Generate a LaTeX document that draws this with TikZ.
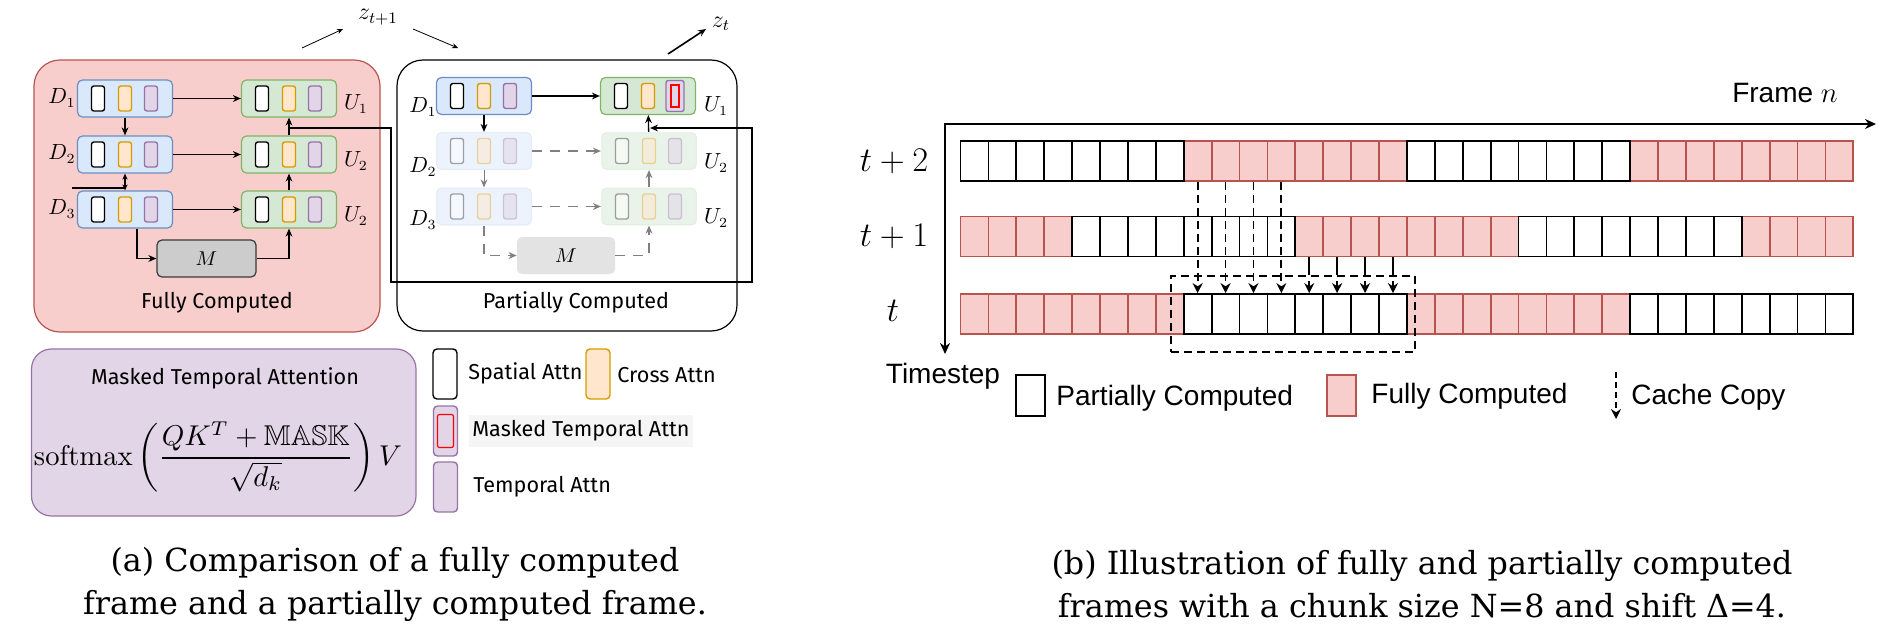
\documentclass[tikz,border=0pt]{standalone}
\usepackage{fontspec}
\usepackage{amsmath,amssymb}
\usepackage{graphicx}
\usetikzlibrary{arrows.meta}
\newfontfamily\comicf{Fira Sans}
\newfontfamily\arialf{Liberation Sans}
\newfontfamily\capf{DejaVu Serif}
\definecolor{redfill}{HTML}{F8CECC}
\definecolor{redline}{HTML}{B85450}
\definecolor{bluefill}{HTML}{DAE8FC}
\definecolor{blueline}{HTML}{6C8EBF}
\definecolor{greenfill}{HTML}{D5E8D4}
\definecolor{greenline}{HTML}{82B366}
\definecolor{orangefill}{HTML}{FFE6CC}
\definecolor{orangeline}{HTML}{D79B00}
\definecolor{purplefill}{HTML}{E1D5E7}
\definecolor{purpleline}{HTML}{9673A6}
\definecolor{mfill}{HTML}{CCCCCC}
\definecolor{mline}{HTML}{36393D}
\definecolor{fadegray}{HTML}{808080}
\newcommand\attnblk[5]{%
  \node[#4] (#1) at (#2,#3) {};
  \node[sp,#5] (#1s) at ({#2-27},#3) {};
  \node[cr,#5] (#1c) at (#2,#3) {};
  \node[tp,#5] (#1t) at ({#2+26},#3) {};
}
\begin{document}
\begin{tikzpicture}[x=0.5pt,y=-0.5pt,
  blk/.style={rounded corners=2.5pt, minimum width=47.5pt, minimum height=18.5pt, inner sep=0pt, line width=0.6pt},
  bblk/.style={blk, draw=blueline, fill=bluefill},
  gblk/.style={blk, draw=greenline, fill=greenfill},
  inr/.style={rounded corners=1.2pt, minimum width=6.5pt, minimum height=12.5pt, inner sep=0pt, line width=0.7pt},
  sp/.style={inr, draw=black, fill=white},
  cr/.style={inr, draw=orangeline, fill=orangefill},
  tp/.style={inr, draw=purpleline, fill=purplefill},
  fade/.style={fill opacity=0.5, draw opacity=0.1},
  fadei/.style={fill opacity=0.5, draw opacity=0.35},
  arr/.style={-{Stealth[length=4pt,width=3.4pt]}, line width=0.65pt},
  garr/.style={arr, draw=fadegray},
  gdash/.style={garr, dash pattern=on 5pt off 4pt},
  lbl/.style={inner sep=0pt, font=\fontsize{10.5}{12}\selectfont},
  ctext/.style={inner sep=0pt, font=\comicf\fontsize{10.8}{12}\selectfont},
  cell/.style={minimum width=13.95pt, minimum height=20pt, inner sep=0pt, line width=0.9pt},
  wcell/.style={cell, draw=black, fill=white},
  rcell/.style={cell, draw=redline, fill=redfill},
  cache/.style={-{Stealth[length=5pt,width=5pt]}, line width=0.9pt, dash pattern=on 4pt off 2.5pt},
  atext/.style={inner sep=0pt, font=\arialf\fontsize{14}{16}\selectfont},
  rlab/.style={inner sep=0pt, font=\fontsize{17}{19}\selectfont},
  legr/.style={rounded corners=2pt, minimum width=12pt, minimum height=25pt, inner sep=0pt, line width=0.7pt}
]
\path[use as bounding box] (0,0) rectangle (1893,633);

% ---------------- (a) fully computed ----------------
\node[draw=redline, fill=redfill, rounded corners=13pt, line width=0.6pt, minimum width=173pt, minimum height=136pt, inner sep=0pt] (fullbox) at (207,196) {};
\node[draw=black, fill=white, rounded corners=13pt, line width=0.6pt, minimum width=170pt, minimum height=135.5pt, inner sep=0pt] (partbox) at (567,195.5) {};

\attnblk{fD1}{125}{98.5}{bblk}{}
\attnblk{fD2}{125}{154.5}{bblk}{}
\attnblk{fD3}{125}{209.5}{bblk}{}
\attnblk{fU1}{289}{98.5}{gblk}{}
\attnblk{fU2}{289}{154.5}{gblk}{}
\attnblk{fU3}{289}{209.5}{gblk}{}
\node[draw=mline, fill=mfill, rounded corners=2.5pt, line width=0.6pt, minimum width=49.5pt, minimum height=18.5pt, inner sep=0pt] (fM) at (206.5,258.5) {$M$};

\node[lbl] (lfD1) at (62,98) {$D_1$};
\node[lbl] (lfD2) at (62,154) {$D_2$};
\node[lbl] (lfD3) at (62,209) {$D_3$};
\node[lbl] (lfU1) at (356,104) {$U_1$};
\node[lbl] (lfU2) at (356,161) {$U_2$};
\node[lbl] (lfU3) at (356,216) {$U_2$};
\node[ctext] (tfull) at (217,303) {Fully Computed};

\draw[arr] (fD1) -- (fU1);
\draw[arr] (fD2) -- (fU2);
\draw[arr] (fD3) -- (fU3);
\draw[arr] (fD1) -- (fD2);
\draw[{Stealth[length=3pt,width=2.6pt]}-{Stealth[length=3pt,width=2.6pt]}, line width=0.65pt] (fD2) -- (fD3);
\coordinate (fstubA) at (72,188);
\coordinate (fstubB) at (125,188);
\draw[line width=0.65pt] (fstubA) -- (fstubB);
\draw[arr] ([xshift=6pt]fD3.south) |- (fM.west);
\draw[arr] (fM.east) -| (fU3.south);
\draw[arr] (fU3) -- (fU2);
\draw[arr] (fU2) -- (fU1);

% ---------------- (a) partially computed ----------------
\attnblk{pD1}{484}{96}{bblk}{}
\attnblk{pD2}{484}{151}{bblk,fade}{fadei}
\attnblk{pD3}{484}{206.5}{bblk,fade}{fadei}
\node[gblk] (pU1) at (648,96) {};
\node[sp] (pU1s) at (621,96) {};
\node[cr] (pU1c) at (648,96) {};
\node[tp, minimum width=9pt, minimum height=15.5pt] (pU1t) at (675,96) {};
\node[draw=red, line width=0.6pt, minimum width=4pt, minimum height=11pt, inner sep=0pt] (pU1m) at (675,96) {};
\attnblk{pU2}{649}{151}{gblk,fade}{fadei}
\attnblk{pU3}{649}{206.5}{gblk,fade}{fadei}
\node[fill=mfill, fill opacity=0.55, text opacity=1, rounded corners=2.5pt, minimum width=49pt, minimum height=18.5pt, inner sep=0pt] (pM) at (566,255.5) {$M$};

\node[lbl] (lpD1) at (423,107) {$D_1$};
\node[lbl] (lpD2) at (423,167) {$D_2$};
\node[lbl] (lpD3) at (423,220) {$D_3$};
\node[lbl] (lpU1) at (716,106) {$U_1$};
\node[lbl] (lpU2) at (716,163) {$U_2$};
\node[lbl] (lpU3) at (716,218) {$U_2$};
\node[ctext] (tpart) at (576,302) {Partially Computed};

\draw[arr, line width=1pt] (pD1) -- (pU1);
\draw[arr] (pD1) -- (pD2);
\draw[garr, line width=0.5pt] (pD2) -- (pD3);
\draw[gdash] (pD2) -- (pU2);
\draw[gdash] (pD3) -- (pU3);
\draw[gdash] (pD3.south) |- (pM.west);
\draw[gdash] (pM.east) -| (pU3.south);
\draw[garr] (pU3) -- (pU2);
\draw[arr] (pU2) -- (pU1);

% loop connector
\coordinate (lpA) at (289,128);
\coordinate (lpB) at (391,128);
\coordinate (lpC) at (391,282);
\coordinate (lpD) at (752,282);
\coordinate (lpE) at (752,128);
\coordinate (lpF) at (650,128);
\draw[arr] (lpA) -- (lpB) -- (lpC) -- (lpD) -- (lpE) -- (lpF);

% z labels
\node[inner sep=0pt, font=\fontsize{12}{14}\selectfont] (zt1) at (378,17) {$z_{t+1}$};
\node[inner sep=0pt, font=\fontsize{12}{14}\selectfont] (zt) at (721,24) {$z_t$};
\coordinate (za1) at (302,48);
\coordinate (za2) at (343,29);
\coordinate (zb1) at (413,29);
\coordinate (zb2) at (458,48);
\coordinate (zc1) at (668,54);
\coordinate (zc2) at (706,29);
\draw[-{Stealth[length=3pt,width=2.6pt]}, line width=0.4pt] (za1) -- (za2);
\draw[-{Stealth[length=3pt,width=2.6pt]}, line width=0.4pt] (zb1) -- (zb2);
\draw[-{Stealth[length=4pt,width=3.4pt]}, line width=0.8pt] (zc1) -- (zc2);

% ---------------- formula box and legend ----------------
\node[draw=purpleline, fill=purplefill, rounded corners=10pt, line width=0.6pt, minimum width=192.25pt, minimum height=83.5pt, inner sep=0pt] (mbox) at (223.75,432.5) {};
\node[ctext] (mtitle) at (225,378) {Masked Temporal Attention};
\node[inner sep=0pt] (mform) at (218,457) {\resizebox{184pt}{!}{$\displaystyle \mathrm{softmax}\left(\frac{QK^T+\mathbb{MASK}}{\sqrt{d_k}}\right)V$}};

\node[legr, draw=black, fill=white] (lgS) at (445,374) {};
\node[ctext, anchor=west] (lgSt) at (468,373) {Spatial Attn};
\node[legr, draw=orangeline, fill=orangefill] (lgC) at (598,374) {};
\node[ctext, anchor=west] (lgCt) at (617,375) {Cross Attn};
\node[legr, draw=purpleline, fill=purplefill] (lgM) at (445.5,431) {};
\node[draw=red, line width=0.6pt, rounded corners=1pt, minimum width=8pt, minimum height=16.5pt, inner sep=0pt] (lgMr) at (445.5,431) {};
\node[ctext, anchor=west, fill=black!4, inner xsep=1.5pt, inner ysep=3pt] (lgMt) at (469,431) {Masked Temporal Attn};
\node[legr, draw=purpleline, fill=purplefill] (lgT) at (445.5,487) {};
\node[ctext, anchor=west] (lgTt) at (473,487) {Temporal Attn};

% ---------------- (b) ----------------
\coordinate (origin) at (945,124);
\coordinate (xend) at (1876,124);
\coordinate (yend) at (945,354);
\draw[{Stealth[length=5.5pt,width=5pt]}-{Stealth[length=5.5pt,width=5pt]}, line width=1pt] (yend) -- (origin) -- (xend);
\node[atext] (fr) at (1785,93) {Frame $n$};
\node[atext] (ts) at (943,376) {Timestep};
\node[rlab] (r2l) at (894,161) {$t+2$};
\node[rlab] (r1l) at (894,236) {$t+1$};
\node[rlab] (r0l) at (893,311) {$t$};

\foreach \r/\yy/\off/\pp in {2/161/0/1, 1/236.5/4/0, 0/314/0/0} {
  \foreach \i in {0,...,31} {
    \pgfmathtruncatemacro\w{mod(floor((\i+\off)/8)+\pp,2)}
    \pgfmathsetmacro\cx{960.5+(\i+0.5)*27.9}
    \ifnum\w=0
      \node[rcell] (c\r-\i) at (\cx,\yy) {};
    \fi
  }
}
\foreach \r/\yy/\off/\pp in {2/161/0/1, 1/236.5/4/0, 0/314/0/0} {
  \foreach \i in {0,...,31} {
    \pgfmathtruncatemacro\w{mod(floor((\i+\off)/8)+\pp,2)}
    \pgfmathsetmacro\cx{960.5+(\i+0.5)*27.9}
    \ifnum\w=1
      \node[wcell] (c\r-\i) at (\cx,\yy) {};
    \fi
  }
}
\node[draw=black, dash pattern=on 4pt off 2.5pt, line width=0.9pt, minimum width=122pt, minimum height=38pt, inner sep=0pt] (cbox) at (1293,314) {};
\foreach \i in {8,...,11} { \draw[cache] (c2-\i.south) -- (c0-\i.north); }
\foreach \i in {12,...,15} { \draw[cache, dash pattern=on 9pt off 3pt] (c1-\i.south) -- (c0-\i.north); }

% legend (b)
\node[wcell, minimum width=14.5pt, minimum height=20.5pt] (lgP) at (1030.5,395.5) {};
\node[atext, anchor=west] (lgPt) at (1056,398) {Partially Computed};
\node[rcell, minimum width=14.5pt, minimum height=20.5pt] (lgF) at (1341.5,395.5) {};
\node[atext, anchor=west] (lgFt) at (1371,396) {Fully Computed};
\coordinate (lgA1) at (1616,372);
\coordinate (lgA2) at (1616,419);
\draw[cache, line width=0.7pt, dash pattern=on 3pt off 2pt] (lgA1) -- (lgA2);
\node[atext, anchor=west] (lgAt) at (1631,397) {Cache Copy};

% captions
\node[align=center, inner sep=0pt, font=\capf\fontsize{15.9}{21.5}\selectfont] (capa) at (395,584) {(a) Comparison of a fully computed\\frame and a partially computed frame.};
\node[align=center, inner sep=0pt, font=\capf\fontsize{15.9}{21.5}\selectfont] (capb) at (1422,584) {(b) Illustration of fully and partially computed\\frames with a chunk size N=8 and shift Δ=4.};
\end{tikzpicture}
\end{document}
